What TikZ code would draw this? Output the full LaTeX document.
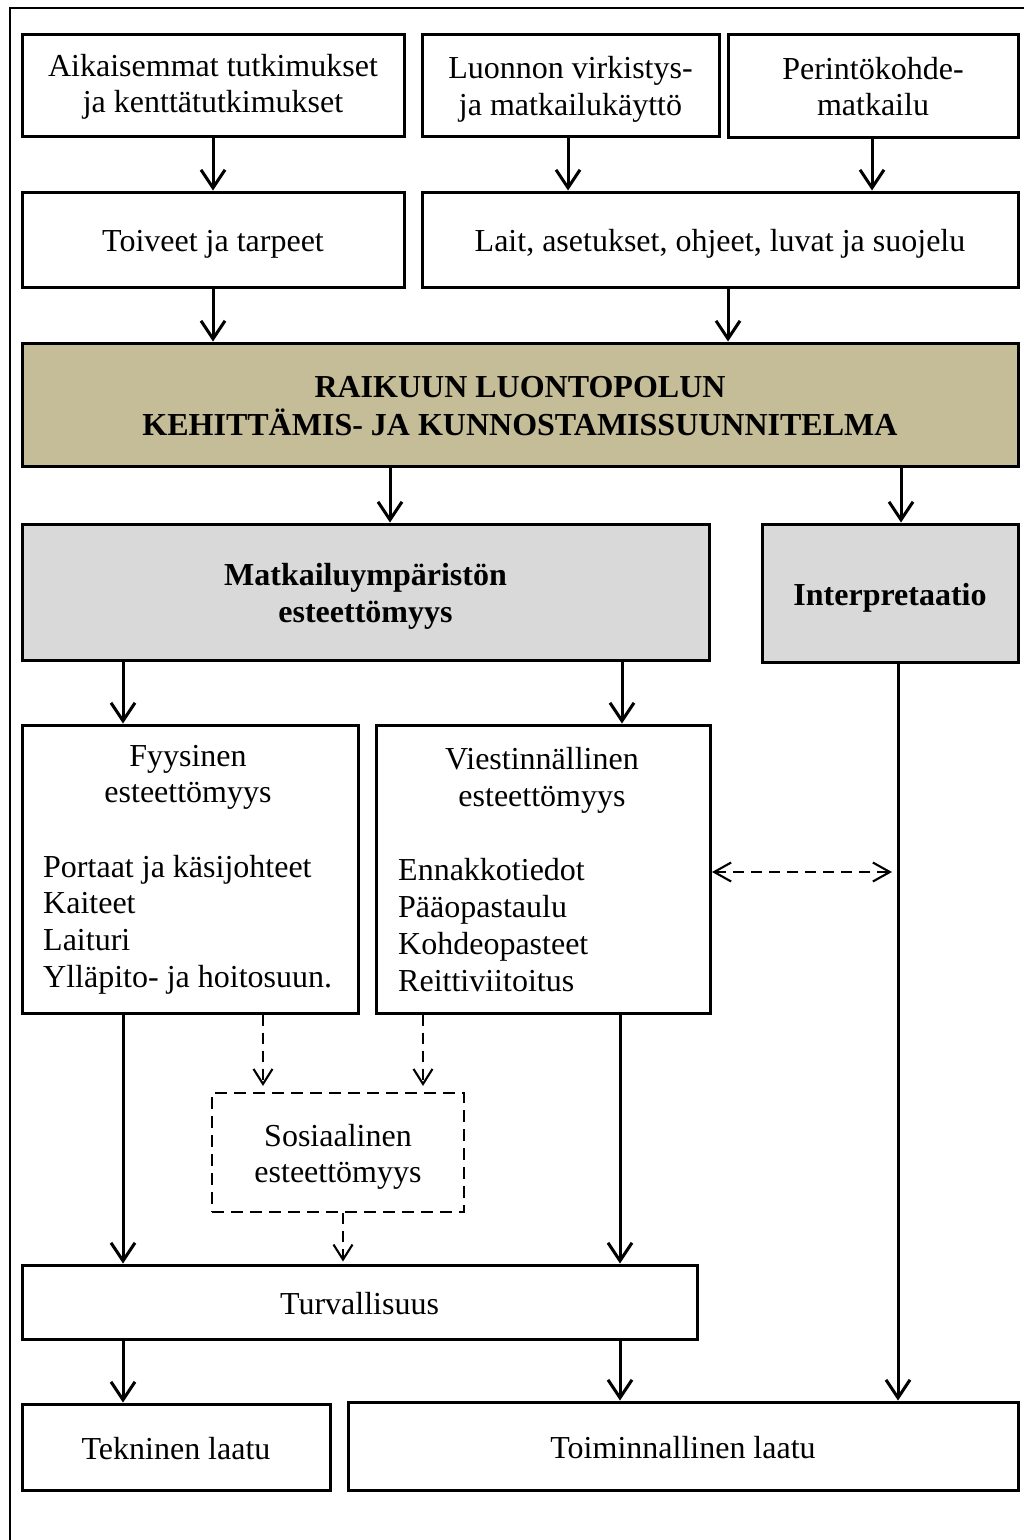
\documentclass[tikz,border=0pt]{standalone}
\usepackage{fontspec}
\setmainfont{Liberation Serif}
\usetikzlibrary{arrows.meta}
\definecolor{plantan}{HTML}{C4BD97}
\definecolor{plangray}{HTML}{D9D9D9}
\newcommand\boxstrut{\rule{0pt}{32pt}}
\tikzset{
  txt/.style={font=\fontsize{32}{36.5}\selectfont},
  struts/.style={execute at begin node={\boxstrut}, execute at end node={\rule[-8pt]{0pt}{8pt}}},
  box/.style={draw, line width=3pt, rectangle, inner sep=0pt, align=center, txt, struts},
  dbox/.style={draw, line width=2.2pt, dash pattern=on 12pt off 7pt, rectangle, inner sep=0pt, align=center, txt, struts},
  arr/.style={line width=3pt, -{Straight Barb[length=18pt,width=24pt]}},
  darr/.style={line width=2.1pt, dash pattern=on 11pt off 7pt, -{Straight Barb[length=15pt,width=19pt]}},
  dboth/.style={line width=2.1pt, dash pattern=on 11pt off 7pt, {Straight Barb[length=17pt,width=19pt]}-{Straight Barb[length=17pt,width=19pt]}},
  line/.style={txt, inner sep=0pt, anchor=base west},
  head/.style={txt, inner sep=0pt, anchor=base}
}
\begin{document}
\begin{tikzpicture}[x=1pt, y=-1pt]
\useasboundingbox (0,0) rectangle (1024,1540);
% outer frame
\draw[line width=1.5pt] (10,1540) -- (10,8) -- (1024,8);

% sources
\node[box, minimum width=382, minimum height=102] (A) at (213,85) {\rule{0pt}{27pt}Aikaisemmat tutkimukset\\ja kenttätutkimukset};
\node[box, minimum width=297, minimum height=102] (B) at (570.5,85) {\boxstrut Luonnon virkistys-\\ja matkailukäyttö};
\node[box, minimum width=290, minimum height=103] (C) at (873,85.5) {\boxstrut Perintökohde-\\matkailu};
\node[box, minimum width=382, minimum height=95] (D) at (213,239.5) {Toiveet ja tarpeet};
\node[box, minimum width=596, minimum height=95] (E) at (720,239.5) {Lait, asetukset, ohjeet, luvat ja suojelu};

% plan
\node[box, fill=plantan, font=\fontsize{32}{38}\selectfont\bfseries, minimum width=996, minimum height=123] (M) at (520,404.5) {\boxstrut RAIKUUN LUONTOPOLUN\\KEHITTÄMIS- JA KUNNOSTAMISSUUNNITELMA};

% accessibility and interpretation
\node[box, fill=plangray, font=\fontsize{32}{37}\selectfont\bfseries, minimum width=687, minimum height=136] (P) at (365.5,592) {\boxstrut Matkailuympäristön\\esteettömyys};
\node[box, fill=plangray, font=\fontsize{32}{37}\selectfont\bfseries, minimum width=256, minimum height=138] (I) at (890,593) {Interpretaatio};

% physical and communicative accessibility
\node[box, minimum width=336, minimum height=288] (F) at (190,869) {};
\node[head] (F1) at (188,766) {Fyysinen};
\node[head] (F2) at (188,802) {esteettömyys};
\foreach \t [count=\i] in {Portaat ja käsijohteet, Kaiteet, Laituri, Ylläpito- ja hoitosuun.}
  \node[line] (Fl\i) at (43,{877+36.7*(\i-1)}) {\t};

\node[box, minimum width=334, minimum height=288] (V) at (543.5,869) {};
\node[head] (V1) at (542,769) {Viestinnällinen};
\node[head] (V2) at (542,806) {esteettömyys};
\foreach \t [count=\i] in {Ennakkotiedot, Pääopastaulu, Kohdeopasteet, Reittiviitoitus}
  \node[line] (Vl\i) at (398,{880+37.2*(\i-1)}) {\t};

% social accessibility
\node[dbox, minimum width=252, minimum height=119] (S) at (338,1152.5) {\boxstrut Sosiaalinen\\esteettömyys};

% safety and quality
\node[box, minimum width=675, minimum height=74] (T) at (359.5,1302) {Turvallisuus};
\node[box, minimum width=308, minimum height=86] (K) at (176,1447) {Tekninen laatu};
\node[box, minimum width=670, minimum height=88] (L) at (683,1446) {Toiminnallinen laatu};

% connectors
\draw[arr] (A) -- (D);
\draw[arr] (568,0 |- B.south) -- (568,0 |- E.north);
\draw[arr] (872,0 |- C.south) -- (872,0 |- E.north);
\draw[arr] (D.south) -- (D.south |- M.north);
\draw[arr] (728,0 |- E.south) -- (728,0 |- M.north);
\draw[arr] (390,0 |- M.south) -- (390,0 |- P.north);
\draw[arr] (901,0 |- M.south) -- (901,0 |- I.north);
\draw[arr] (123,0 |- P.south) -- (123,0 |- F.north);
\draw[arr] (622,0 |- P.south) -- (622,0 |- V.north);
\draw[arr] (898,0 |- I.south) -- (898,0 |- L.north);
\draw[arr] (123,0 |- F.south) -- (123,0 |- T.north);
\draw[arr] (620,0 |- V.south) -- (620,0 |- T.north);
\draw[arr] (123,0 |- T.south) -- (123,0 |- K.north);
\draw[arr] (620,0 |- T.south) -- (620,0 |- L.north);

\draw[darr, shorten >=6pt] (263,0 |- F.south) -- (263,0 |- S.north);
\draw[darr, shorten >=6pt] (423,0 |- V.south) -- (423,0 |- S.north);
\draw[darr, shorten >=2pt] (343,0 |- S.south) -- (343,0 |- T.north);

\coordinate (Iline) at (892,872);
\draw[dboth] (V.east |- Iline) -- (Iline);
\end{tikzpicture}
\end{document}
